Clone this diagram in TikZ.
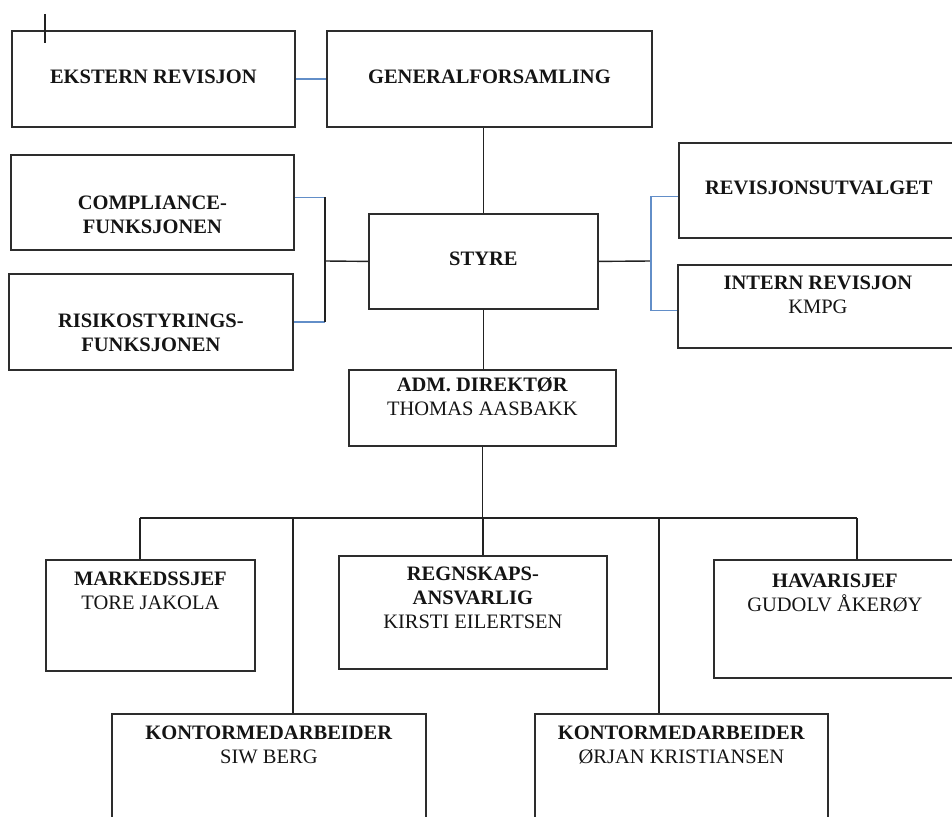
\documentclass[tikz,border=0pt]{standalone}
\usepackage{fontspec}
\setmainfont{Liberation Serif}
\usetikzlibrary{calc}
\definecolor{boxline}{RGB}{45,45,45}
\definecolor{wire}{RGB}{34,34,34}
\definecolor{bluewire}{RGB}{98,142,200}
\definecolor{inktext}{RGB}{20,20,20}
% width, height, baseline of first line, text
\newcommand{\cell}[4]{\parbox[c][#2][t]{#1}{\centering\rule{0pt}{#3}#4}}
\newcommand{\role}[1]{\textbf{#1}}

\begin{document}
\begin{tikzpicture}[x=1pt, y=-1pt]
  \tikzset{
    orgbox/.style={draw=boxline, line width=1.8pt, inner sep=0pt, anchor=north west,
      text=inktext, font=\fontsize{20.5pt}{24pt}\selectfont},
    wireline/.style={draw=wire, line width=1.4pt},
    blueline/.style={draw=bluewire, line width=1.4pt}
  }
  \useasboundingbox (0,0) rectangle (952,816);

  \node[orgbox] (ekstern) at (11,30) {\cell{283pt}{96pt}{53pt}{\role{EKSTERN REVISJON}}};
  \node[orgbox] (genfors) at (326,30) {\cell{325pt}{96pt}{53pt}{\role{GENERALFORSAMLING}}};
  \node[orgbox] (compl) at (10,154) {\cell{283pt}{95pt}{55pt}{\role{COMPLIANCE-}\\\role{FUNKSJONEN}}};
  \node[orgbox] (risiko) at (8,273) {\cell{284pt}{96pt}{54pt}{\role{RISIKOSTYRINGS-}\\\role{FUNKSJONEN}}};
  \node[orgbox] (styre) at (368,213) {\cell{229pt}{95pt}{52pt}{\role{STYRE}}};
  \node[orgbox] (revutv) at (678,142) {\cell{280pt}{95pt}{52pt}{\role{REVISJONSUTVALGET}}};
  \node[orgbox] (internrev) at (677,264) {\cell{280pt}{83pt}{25pt}{\role{INTERN REVISJON}\\KMPG}};
  \node[orgbox] (admdir) at (348,369) {\cell{267pt}{76pt}{22pt}{\role{ADM. DIREKTØR}\\THOMAS AASBAKK}};
  \node[orgbox] (marked) at (45,559) {\cell{209pt}{111pt}{26pt}{\role{MARKEDSSJEF}\\TORE JAKOLA}};
  \node[orgbox] (regnskap) at (338,555) {\cell{268pt}{113pt}{25pt}{\role{REGNSKAPS-}\\\role{ANSVARLIG}\\KIRSTI EILERTSEN}};
  \node[orgbox] (havari) at (713,559) {\cell{242pt}{118pt}{28pt}{\role{HAVARISJEF}\\GUDOLV ÅKERØY}};
  \node[orgbox] (kontorA) at (111,713) {\cell{314pt}{120pt}{26pt}{\role{KONTORMEDARBEIDER}\\SIW BERG}};
  \node[orgbox] (kontorB) at (534,713) {\cell{293pt}{120pt}{26pt}{\role{KONTORMEDARBEIDER}\\ØRJAN KRISTIANSEN}};

  % stray tick over the top left box
  \coordinate (tick-top) at (45,14);
  \coordinate (tick-bot) at (45,43);
  \draw[wireline] (tick-top) -- (tick-bot);

  % top row and board
  \draw[blueline] (ekstern.east) -- (genfors.west);
  \draw[wireline] (styre.north) -- (styre.north |- genfors.south);
  \draw[wireline] (styre.south) -- (styre.south |- admdir.north);

  % left bracket
  \coordinate (lbr) at (325,261);
  \coordinate (compl-out) at ([yshift=5pt]compl.east);
  \draw[wireline] (lbr) -- (styre.west);
  \draw[blueline] (compl-out) -- (lbr |- compl-out);
  \draw[blueline] (risiko.east) -- (lbr |- risiko.east);
  \draw[wireline] (lbr |- compl-out) -- (lbr |- risiko.east);

  % right bracket
  \coordinate (rbr) at (651,261);
  \coordinate (revutv-in) at ([yshift=-6pt]revutv.west);
  \coordinate (internrev-in) at ([yshift=-4pt]internrev.west);
  \draw[wireline] (styre.east) -- (rbr);
  \draw[blueline] (revutv-in) -| (rbr |- internrev-in) -- (internrev-in);

  % staff below the director
  \coordinate (bus-a) at (140,518);
  \coordinate (bus-b) at (293,518);
  \coordinate (bus-c) at (483,518);
  \coordinate (bus-d) at (659,518);
  \coordinate (bus-e) at (857,518);
  \draw[wireline] (admdir.south) -- (admdir.south |- bus-c);
  \draw[wireline] (bus-a) -- (bus-e);
  \draw[wireline] (bus-a) -- (bus-a |- marked.north);
  \draw[wireline] (bus-b) -- (bus-b |- kontorA.north);
  \draw[wireline] (bus-c) -- (bus-c |- regnskap.north);
  \draw[wireline] (bus-d) -- (bus-d |- kontorB.north);
  \draw[wireline] (bus-e) -- (bus-e |- havari.north);
\end{tikzpicture}
\end{document}
